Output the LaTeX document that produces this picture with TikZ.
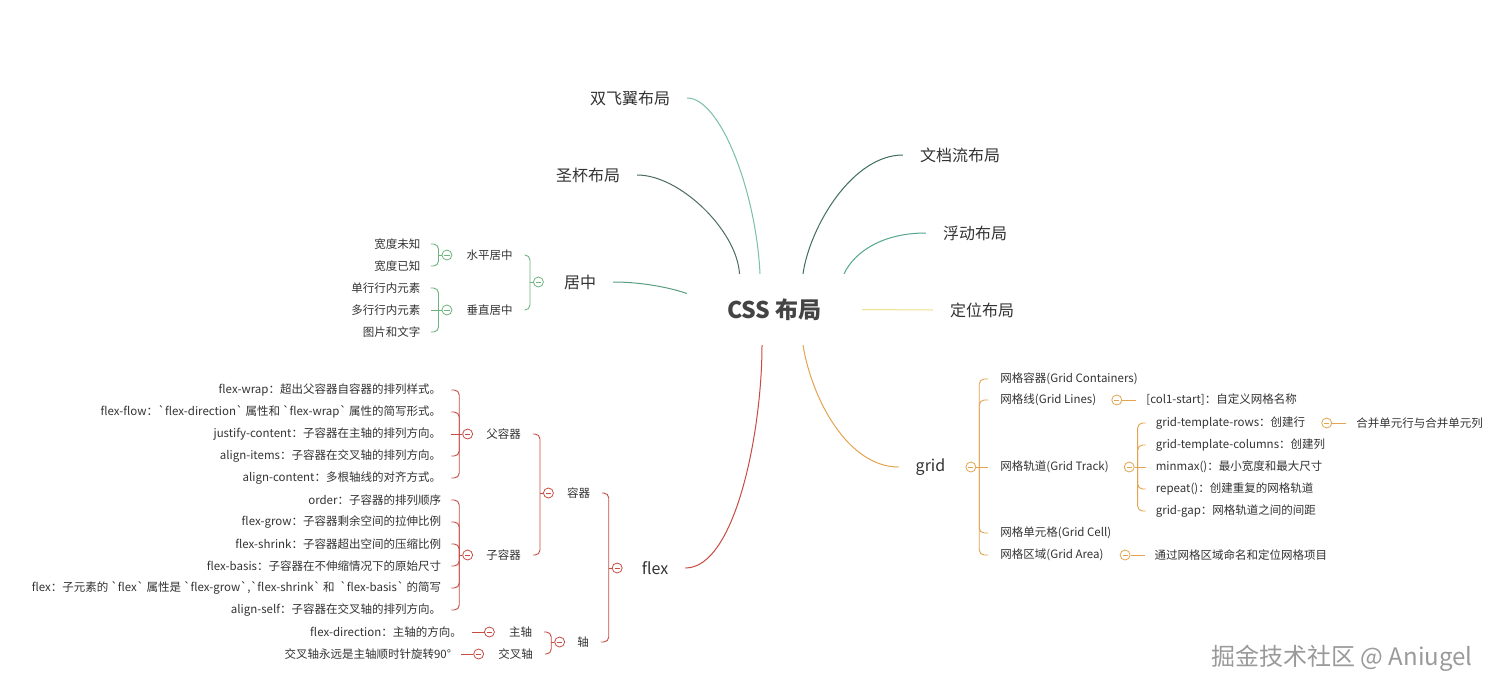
\documentclass[tikz,border=0pt]{standalone}
\usepackage{fontspec}
\setmainfont{Noto Sans CJK SC}
\usepackage{xcolor}
\usepackage{tikz}
\usetikzlibrary{positioning, calc}

\definecolor{ctext}{HTML}{333333}
\definecolor{croot}{HTML}{444444}
\definecolor{csfy}{HTML}{79C0A4}
\definecolor{csb}{HTML}{4C6B62}
\definecolor{cjz}{HTML}{5A9E80}
\definecolor{cwdl}{HTML}{3E6E5C}
\definecolor{cfd}{HTML}{52A58F}
\definecolor{cdw}{HTML}{EFE08A}
\definecolor{cgreen}{HTML}{6CB37E}
\definecolor{cred}{HTML}{C84B42}
\definecolor{corg}{HTML}{E3A44F}
\definecolor{cwm}{HTML}{9A9A9A}

\newcommand{\fsleaf}{\fontsize{11.5}{13}\selectfont}
\newcommand{\fstopic}{\fontsize{16}{18}\selectfont}
\newcommand{\fsroot}{\fontsize{23}{25}\selectfont}
\newcommand{\fswm}{\fontsize{24}{26}\selectfont}
\newcommand{\bqt}{\textasciigrave}

\tikzset{knob/.style={circle, draw=#1, fill=white, line width=0.8pt, minimum size=10pt, inner sep=0pt,
    path picture={\draw[#1, line width=0.8pt] ([xshift=-2.6pt]path picture bounding box.center) -- ([xshift=2.6pt]path picture bounding box.center);}}}

\begin{document}
\begin{tikzpicture}[x=1pt, y=-1pt, font=\fsleaf, text=ctext]
    \tikzstyle{topic} = [font=\fstopic, inner xsep=17pt, inner ysep=2pt]
    \tikzstyle{subtopic} = [inner xsep=12pt, inner ysep=1pt]
    \tikzstyle{leafl} = [anchor=east, inner xsep=10pt, inner ysep=1pt]
    \tikzstyle{leafr} = [anchor=west, inner xsep=10pt, inner ysep=1pt]
    \tikzstyle{trunk} = [line width=1pt]
    \tikzstyle{twig} = [line width=0.9pt, rounded corners=5pt]

    \useasboundingbox (0,0) rectangle (1500,694);
    \fill[white] (0,0) rectangle (1500,694);

    \node (root) [minimum width=175pt, minimum height=71pt, font=\fsroot\bfseries, text=croot] at (774.5,309.5) {CSS 布局};

    \node (sfy) [topic] at (630,98) {双飞翼布局};
    \node (sb) [topic] at (588,175) {圣杯布局};
    \node (jz) [topic] at (580,282) {居中};
    \node (wdl) [topic] at (960,155) {文档流布局};
    \node (fd) [topic] at (975,233) {浮动布局};
    \node (dw) [topic] at (982,310) {定位布局};
    \node (flex) [topic] at (655,568) {flex};
    \node (grid) [topic] at (930.5,467) {grid};

    \draw [trunk, csfy] ([xshift=-14.5pt]root.north) .. controls +(-4,-83) and +(33,0) .. (sfy.east);
    \draw [trunk, csb] ([xshift=-35pt]root.north) .. controls +(-2.5,-43) and +(43,0) .. (sb.east);
    \draw [trunk, cjz] ([yshift=16pt]root.west) .. controls +(-20,-7) and +(25,0) .. (jz.east);
    \draw [trunk, cwdl] ([xshift=28.5pt]root.north) .. controls +(7,-48) and +(-50,0) .. (wdl.west);
    \draw [trunk, cfd] ([xshift=69.5pt]root.north) .. controls +(11,-23) and +(-42,0) .. (fd.west);
    \draw [trunk, cdw] (root.east) -- (dw.west);
    \draw [trunk, cred] ([xshift=-12.5pt]root.south) .. controls +(0,86) and +(50,0) .. (flex.east);
    \draw [trunk, corg] ([xshift=28.5pt]root.south) .. controls +(9,55) and +(-50,0) .. (grid.west);

    \node (jzk) [knob=cgreen, left=3pt of jz] {};
    \node (spz) [subtopic] at (489.5,255) {水平居中};
    \node (czz) [subtopic] at (489.5,310) {垂直居中};
    \draw [twig, cgreen] (jzk.west) -- ++(-3,0) coordinate (jzs);
    \draw [twig, cgreen] (jzs) |- (spz.east);
    \draw [twig, cgreen] (jzs) |- (czz.east);

    \node (spzk) [knob=cgreen, left=2pt of spz] {};
    \draw [twig, cgreen] (spzk.west) -- ++(-3,0) coordinate (spzs);
    \node (kdwz) [leafl] at ($(spzs)+(-8,-11)$) {宽度未知};
    \node (kdyz) [leafl] at ($(spzs)+(-8,11)$) {宽度已知};
    \draw [twig, cgreen] (spzs) |- (kdwz.east);
    \draw [twig, cgreen] (spzs) |- (kdyz.east);

    \node (czzk) [knob=cgreen, left=2pt of czz] {};
    \draw [twig, cgreen] (czzk.west) -- ++(-3,0) coordinate (czzs);
    \node (dxh) [leafl] at ($(czzs)+(-8,-22)$) {单行行内元素};
    \node (mxh) [leafl] at ($(czzs)+(-8,0)$) {多行行内元素};
    \node (tpwz) [leafl] at ($(czzs)+(-8,22)$) {图片和文字};
    \draw [twig, cgreen] (czzs) |- (dxh.east);
    \draw [twig, cgreen] (czzs) -- (mxh.east);
    \draw [twig, cgreen] (czzs) |- (tpwz.east);

    \node (flexk) [knob=cred, left=2pt of flex] {};
    \node (rq) [subtopic] at (578.5,493) {容器};
    \node (zhou) [subtopic] at (583,642) {轴};
    \draw [twig, cred] (flexk.west) -- ++(-3,0) coordinate (flexs);
    \draw [twig, cred] (flexs) |- (rq.east);
    \draw [twig, cred] (flexs) |- (zhou.east);

    \node (rqk) [knob=cred, left=1pt of rq] {};
    \node (fr) [subtopic] at (503.5,434) {父容器};
    \node (zr) [subtopic] at (503.5,555) {子容器};
    \draw [twig, cred] (rqk.west) -- ++(-3,0) coordinate (rqs);
    \draw [twig, cred] (rqs) |- (fr.east);
    \draw [twig, cred] (rqs) |- (zr.east);

    \node (frk) [knob=cred, left=1pt of fr] {};
    \draw [twig, cred] (frk.west) -- ++(-3,0) coordinate (frs);
    \node (fw) [leafl] at ($(frs)+(-8,-44)$) {flex-wrap：超出父容器自容器的排列样式。};
    \node (ff) [leafl] at ($(frs)+(-8,-22)$) {flex-flow：\bqt flex-direction\bqt{} 属性和 \bqt flex-wrap\bqt{} 属性的简写形式。};
    \node (jc) [leafl] at ($(frs)+(-8,0)$) {justify-content：子容器在主轴的排列方向。};
    \node (ai) [leafl] at ($(frs)+(-8,22)$) {align-items：子容器在交叉轴的排列方向。};
    \node (ac) [leafl] at ($(frs)+(-8,44)$) {align-content：多根轴线的对齐方式。};
    \draw [twig, cred] (frs) |- (fw.east);
    \draw [twig, cred] (frs) |- (ff.east);
    \draw [twig, cred] (frs) -- (jc.east);
    \draw [twig, cred] (frs) |- (ai.east);
    \draw [twig, cred] (frs) |- (ac.east);

    \node (zrk) [knob=cred, left=1pt of zr] {};
    \draw [twig, cred] (zrk.west) -- ++(-3,0) coordinate (zrs);
    \node (od) [leafl] at ($(zrs)+(-8,-55)$) {order：子容器的排列顺序};
    \node (fgw) [leafl] at ($(zrs)+(-8,-33)$) {flex-grow：子容器剩余空间的拉伸比例};
    \node (fsk) [leafl] at ($(zrs)+(-8,-11)$) {flex-shrink：子容器超出空间的压缩比例};
    \node (fbs) [leafl] at ($(zrs)+(-8,11)$) {flex-basis：子容器在不伸缩情况下的原始尺寸};
    \node (fx) [leafl] at ($(zrs)+(-8,33)$) {flex：子元素的 \bqt flex\bqt{} 属性是 \bqt flex-grow\bqt,\bqt flex-shrink\bqt{} 和 \ \bqt flex-basis\bqt{} 的简写};
    \node (asf) [leafl] at ($(zrs)+(-8,55)$) {align-self：子容器在交叉轴的排列方向。};
    \draw [twig, cred] (zrs) |- (od.east);
    \draw [twig, cred] (zrs) |- (fgw.east);
    \draw [twig, cred] (zrs) |- (fsk.east);
    \draw [twig, cred] (zrs) |- (fbs.east);
    \draw [twig, cred] (zrs) |- (fx.east);
    \draw [twig, cred] (zrs) |- (asf.east);

    \node (zhouk) [knob=cred, left=0pt of zhou] {};
    \draw [twig, cred] (zhouk.west) -- ++(-3,0) coordinate (zhous);
    \node (zz) [subtopic] at (520.5,632) {主轴};
    \node (jcz) [subtopic] at (515.5,654) {交叉轴};
    \draw [twig, cred] (zhous) |- (zz.east);
    \draw [twig, cred] (zhous) |- (jcz.east);

    \node (zzk) [knob=cred, left=2pt of zz] {};
    \node (zzl) [leafl, left=12pt of zzk] {flex-direction：主轴的方向。};
    \draw [twig, cred] (zzk.west) -- (zzl.east);
    \node (jczk) [knob=cred, left=2pt of jcz] {};
    \node (jczl) [leafl, left=12pt of jczk] {交叉轴永远是主轴顺时针旋转90°};
    \draw [twig, cred] (jczk.west) -- (jczl.east);

    \node (gridk) [knob=corg, right=3pt of grid] {};
    \draw [twig, corg] (gridk.east) -- ++(3,0) coordinate (grids);
    \node (gcn) [subtopic, anchor=west] at ($(grids)+(9,-88)$) {网格容器(Grid Containers)};
    \node (gl) [subtopic, anchor=west] at ($(grids)+(9,-67)$) {网格线(Grid Lines)};
    \node (gt) [subtopic, anchor=west] at ($(grids)+(9,0)$) {网格轨道(Grid Track)};
    \node (gcl) [subtopic, anchor=west] at ($(grids)+(9,66)$) {网格单元格(Grid Cell)};
    \node (ga) [subtopic, anchor=west] at ($(grids)+(9,88)$) {网格区域(Grid Area)};
    \draw [twig, corg] (grids) |- (gcn.west);
    \draw [twig, corg] (grids) |- (gl.west);
    \draw [twig, corg] (grids) -- (gt.west);
    \draw [twig, corg] (grids) |- (gcl.west);
    \draw [twig, corg] (grids) |- (ga.west);

    \node (glk) [knob=corg, right=3pt of gl] {};
    \node (cls) [leafr, right=14pt of glk] {[col1-start]：自定义网格名称};
    \draw [twig, corg] (glk.east) -- (cls.west);

    \node (gtk) [knob=corg, right=3pt of gt] {};
    \draw [twig, corg] (gtk.east) -- ++(3,0) coordinate (gts);
    \node (gtr) [leafr] at ($(gts)+(8,-44)$) {grid-template-rows：创建行};
    \node (gtcol) [leafr] at ($(gts)+(8,-22)$) {grid-template-columns：创建列};
    \node (mmx) [leafr] at ($(gts)+(8,0)$) {minmax()：最小宽度和最大尺寸};
    \node (rpt) [leafr] at ($(gts)+(8,22)$) {repeat()：创建重复的网格轨道};
    \node (ggp) [leafr] at ($(gts)+(8,44)$) {grid-gap：网格轨道之间的间距};
    \draw [twig, corg] (gts) |- (gtr.west);
    \draw [twig, corg] (gts) |- (gtcol.west);
    \draw [twig, corg] (gts) -- (mmx.west);
    \draw [twig, corg] (gts) |- (rpt.west);
    \draw [twig, corg] (gts) |- (ggp.west);

    \node (gtrk) [knob=corg, right=6pt of gtr] {};
    \node (hbdy) [leafr, right=14pt of gtrk] {合并单元行与合并单元列};
    \draw [twig, corg] (gtrk.east) -- (hbdy.west);

    \node (gak) [knob=corg, right=4pt of ga] {};
    \node (qymm) [leafr, right=14pt of gak] {通过网格区域命名和定位网格项目};
    \draw [twig, corg] (gak.east) -- (qymm.west);

    \node (wm) [font=\fswm, text=cwm] at (1342,658) {掘金技术社区 @ Aniugel};
\end{tikzpicture}
\end{document}
